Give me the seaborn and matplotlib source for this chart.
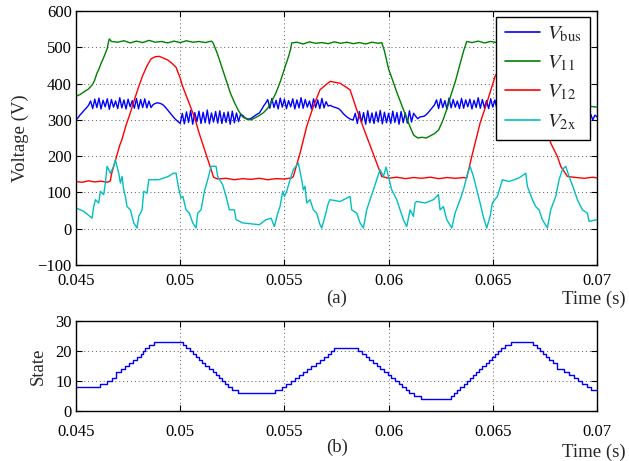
import numpy as np
import matplotlib
matplotlib.use("Agg")
import matplotlib.pyplot as plt
import seaborn as sns

# ---- data ----
# V_bus sampled every 0.1 ms from 0.045 s
t0_bus = 0.045
dt_bus = 0.0001
v_bus = [300, 306, 314, 320, 327, 333, 340,
         352, 331, 357, 334, 360, 330, 354, 336, 358, 329, 356, 335, 352, 331, 361,
         333, 355, 330, 357, 336, 353, 332, 359, 330, 356, 334, 358, 333, 352,
         334, 342, 345, 347, 346, 344, 340, 334, 327, 320, 313, 306, 300, 295, 290,
         318, 289, 322, 293, 326, 288, 320, 295, 324, 290, 321, 292, 327, 289, 319,
         294, 323, 291, 325, 290, 320, 293, 322, 288, 324, 292, 319, 295, 316,
         312, 306, 303, 302, 304, 308, 312, 316, 319, 328, 338, 346,
         356, 332, 359, 334, 354, 330, 360, 335, 357, 331, 353, 336, 358, 330, 355,
         333, 361, 332, 356, 335, 352, 330, 358, 334, 355, 331, 359, 333, 350,
         338, 340, 337, 335, 333, 331, 326, 319, 313, 308, 304, 301, 300,
         318, 290, 323, 293, 320, 288, 325, 292, 319, 290, 322, 294, 326, 289, 321,
         292, 318, 290, 324, 293, 320, 288, 323, 292, 319, 291, 325, 294, 318,
         310, 303, 308, 309, 310, 314, 320, 327, 334, 341,
         355, 331, 358, 334, 353, 330, 360, 333, 356, 335, 352, 331, 359, 332, 355,
         336, 357, 330, 354, 334, 361, 332, 356, 333, 353, 331, 358, 335, 355, 330,
         357, 334, 352,
         335, 342, 345, 347, 346, 343, 339, 333, 327, 320, 313, 307, 302, 298, 296,
         300, 305,
         320, 291, 323, 289, 318, 293, 325, 290, 321, 292, 324, 288, 320, 294, 322,
         290, 319, 293, 326, 291, 320, 297, 318, 303, 315, 300, 313, 308]

t_11 = [0.045, 0.0452, 0.0454, 0.0456, 0.0458, 0.0459, 0.046, 0.0461, 0.0462, 0.0463,
        0.0464, 0.0465, 0.04655, 0.0466, 0.0467, 0.047, 0.0473, 0.0476, 0.0479, 0.0482,
        0.0485, 0.0488, 0.0491, 0.0494, 0.0497, 0.05, 0.0503, 0.0506, 0.0509, 0.0512,
        0.0515, 0.05158, 0.0518, 0.052, 0.0522, 0.0524, 0.0526, 0.0528, 0.053, 0.0532,
        0.0534, 0.0536, 0.0538, 0.054, 0.0542, 0.0544, 0.0546, 0.0548, 0.055, 0.0552,
        0.0553, 0.05535, 0.0556, 0.0559, 0.0562, 0.0565, 0.0568, 0.0571, 0.0574, 0.0577,
        0.058, 0.0583, 0.0586, 0.0589, 0.0592, 0.0595, 0.05967, 0.0598, 0.06, 0.0602,
        0.0604, 0.0606, 0.0608, 0.061, 0.0612, 0.0614, 0.0616, 0.0618, 0.062, 0.0622,
        0.0624, 0.0626, 0.0628, 0.063, 0.0632, 0.0634, 0.0636, 0.06375, 0.064, 0.0643,
        0.0646, 0.0649, 0.0652, 0.0655, 0.0658, 0.0661, 0.0664, 0.0667, 0.067, 0.0673,
        0.0676, 0.068, 0.0682, 0.0684, 0.0686, 0.0688, 0.069, 0.0692, 0.0694, 0.0697,
        0.07]
v_11 = [365, 370, 378, 385, 398, 410, 428, 440, 455, 468,
        482, 497, 512, 523, 516, 514, 518, 512, 517, 513,
        519, 514, 516, 512, 517, 513, 518, 514, 516, 513,
        517, 512, 480, 445, 410, 375, 348, 325, 308, 302,
        300, 306, 312, 320, 332, 352, 375, 405, 440, 475,
        495, 512, 514, 509, 515, 511, 513, 510, 515, 511,
        514, 510, 513, 509, 514, 511, 513, 490, 440, 408,
        375, 345, 315, 285, 258, 250, 252, 250, 256, 262,
        272, 298, 330, 370, 405, 448, 490, 516, 513, 517,
        512, 516, 513, 517, 512, 515, 513, 516, 512, 515,
        513, 514, 500, 470, 435, 400, 370, 348, 340, 337,
        335]

t_12 = [0.045, 0.0453, 0.0456, 0.0459, 0.0462, 0.0465, 0.04665, 0.0467, 0.0469, 0.0471,
        0.0472, 0.0474, 0.0476, 0.0478, 0.048, 0.0482, 0.0484, 0.0486, 0.0488, 0.049,
        0.0492, 0.0494, 0.0496, 0.0498, 0.05, 0.0501, 0.0503, 0.0505, 0.0507, 0.0509,
        0.0511, 0.0513, 0.0515, 0.0516, 0.0518, 0.0522, 0.0526, 0.053, 0.0534, 0.0538,
        0.0542, 0.0546, 0.055, 0.05535, 0.05543, 0.05575, 0.05607, 0.05639, 0.05671, 0.05719,
        0.05767, 0.05815, 0.05847, 0.05895, 0.05943, 0.05967, 0.06, 0.0604, 0.0608, 0.0612,
        0.0616, 0.062, 0.0624, 0.0628, 0.0632, 0.0636, 0.06375, 0.06399, 0.06439, 0.06471,
        0.06511, 0.0653, 0.0657, 0.066, 0.0663, 0.0666, 0.0669, 0.0672, 0.0675, 0.06778,
        0.0681, 0.06826, 0.06858, 0.069, 0.0694, 0.0698, 0.07]
v_12 = [130, 128, 132, 129, 131, 128, 132, 150, 190, 230,
        245, 285, 318, 355, 390, 422, 448, 468, 474, 475,
        470, 465, 456, 445, 415, 395, 365, 335, 305, 265,
        230, 195, 160, 142, 137, 139, 135, 138, 136, 139,
        135, 138, 137, 140, 144, 208, 282, 337, 383, 406,
        401, 383, 328, 254, 181, 144, 139, 142, 138, 141,
        139, 142, 138, 141, 139, 141, 140, 199, 291, 346,
        420, 438, 465, 472, 470, 455, 420, 370, 300, 236,
        199, 172, 144, 141, 139, 142, 140]

t_2x = [0.04500, 0.04537, 0.04577, 0.04585, 0.04593, 0.04609, 0.04617, 0.04633, 0.04641, 0.04649,
        0.04665, 0.04681, 0.04689, 0.04705, 0.04713, 0.04721, 0.04729, 0.04737, 0.04745, 0.04761,
        0.04769, 0.04777, 0.04793, 0.04801, 0.04817, 0.04825, 0.04841, 0.04849, 0.04897, 0.04943,
        0.04967, 0.04980, 0.04993, 0.05004, 0.05013, 0.05028, 0.05044, 0.05060, 0.05076, 0.05084,
        0.05100, 0.05116, 0.05132, 0.05148, 0.05172, 0.05180, 0.05204, 0.05220, 0.05236, 0.05260,
        0.05268, 0.05300, 0.05380, 0.05412, 0.05436, 0.05452, 0.05468, 0.05479, 0.05492, 0.05500,
        0.05511, 0.05527, 0.05543, 0.05567, 0.05583, 0.05591, 0.05599, 0.05607, 0.05623, 0.05639,
        0.05655, 0.05671, 0.05679, 0.05695, 0.05711, 0.05719, 0.05767, 0.05815, 0.05823, 0.05847,
        0.05863, 0.05879, 0.05895, 0.05911, 0.05927, 0.05943, 0.05959, 0.05975, 0.05988, 0.05999,
        0.06015, 0.06039, 0.06055, 0.06071, 0.06087, 0.06103, 0.06119, 0.06127, 0.06135, 0.06175,
        0.06215, 0.06239, 0.06247, 0.06263, 0.06279, 0.06303, 0.06319, 0.06343, 0.06359, 0.06375,
        0.06391, 0.06407, 0.06423, 0.06439, 0.06454, 0.06471, 0.06487, 0.06498, 0.06522, 0.06546,
        0.06578, 0.06626, 0.06658, 0.06666, 0.06690, 0.06706, 0.06722, 0.06738, 0.06762, 0.06778,
        0.06802, 0.06818, 0.06834, 0.06850, 0.06866, 0.06890, 0.06906, 0.06930, 0.06954, 0.06962,
        0.07000]
v_2x = [57, 48, 29, 61, 80, 71, 103, 94, 126, 172,
        153, 172, 190, 153, 126, 144, 107, 89, 61, 52,
        34, 16, 2, 34, 52, 103, 98, 135, 135, 144,
        153, 153, 110, 85, 89, 52, 43, 16, 2, 43,
        52, 103, 135, 172, 172, 144, 121, 89, 52, 52,
        25, 16, 11, 25, 29, 6, 43, 61, 103, 89,
        103, 135, 163, 181, 135, 107, 117, 71, 80, 52,
        43, 11, 2, 34, 71, 80, 75, 89, 52, 43,
        16, 2, 52, 80, 107, 135, 163, 144, 170, 144,
        107, 80, 52, 25, 6, 52, 34, 71, 75, 71,
        80, 94, 52, 61, 25, 2, 43, 80, 107, 144,
        172, 144, 107, 71, 34, 2, 34, 71, 89, 135,
        130, 140, 153, 117, 80, 61, 52, 25, 2, 52,
        89, 135, 163, 172, 144, 107, 80, 52, 43, 20,
        25]

# switching state (step changes)
state_t = [0.045, 0.04615, 0.0465, 0.04671, 0.04692, 0.04714, 0.04735, 0.04754, 0.04775,
           0.04794, 0.04812, 0.04822, 0.04831, 0.04852, 0.04874,
           0.05015, 0.0503, 0.05045, 0.0506, 0.05075, 0.0509, 0.05105, 0.0512, 0.0514,
           0.05155, 0.0517, 0.05185, 0.052, 0.05215, 0.0523, 0.05248, 0.05275,
           0.05455, 0.0549, 0.0551, 0.0553, 0.0555, 0.0557, 0.0559, 0.0561, 0.0563,
           0.0565, 0.0567, 0.0569, 0.0571, 0.05725, 0.0574,
           0.05855, 0.05872, 0.0589, 0.05908, 0.05925, 0.05943, 0.0596, 0.05978, 0.05995,
           0.06013, 0.0603, 0.06048, 0.06065, 0.06083, 0.061, 0.0612, 0.06155,
           0.06298, 0.06315, 0.0633, 0.06345, 0.0636, 0.06375, 0.0639, 0.06405, 0.0642,
           0.06435, 0.0645, 0.06465, 0.0648, 0.06495, 0.0651, 0.06525, 0.0654, 0.0656, 0.06587,
           0.06692, 0.0671, 0.06725, 0.0674, 0.06755, 0.0677, 0.0679, 0.0681, 0.0684,
           0.06865, 0.0689, 0.0691, 0.0693, 0.0695, 0.0697, 0.07]
state_v = [8, 9, 10, 11, 13, 14, 15, 16, 17,
           18, 19, 20, 21, 22, 23,
           22, 21, 20, 19, 18, 17, 16, 15, 14,
           13, 12, 11, 10, 9, 8, 7, 6,
           7, 8, 9, 10, 11, 12, 13, 14, 15,
           16, 17, 18, 19, 20, 21,
           20, 19, 18, 17, 16, 15, 14, 13, 12,
           11, 10, 9, 8, 7, 6, 5, 4,
           5, 6, 7, 8, 9, 10, 11, 12, 13,
           14, 15, 16, 17, 18, 19, 20, 21, 22, 23,
           22, 21, 20, 19, 18, 17, 16, 14, 13,
           12, 11, 10, 9, 8, 7, 7]

xticks = [0.045, 0.05, 0.055, 0.06, 0.065, 0.07]
xticklabels = ['0.045', '0.05', '0.055', '0.06', '0.065', '0.07']

t_bus = t0_bus + dt_bus * np.arange(len(v_bus))

# ---- style ----
sns.set_style("ticks")
plt.rcParams['font.family'] = ['Liberation Serif', 'DejaVu Serif']
plt.rcParams['mathtext.fontset'] = 'stix'
plt.rcParams['font.size'] = 12
plt.rcParams['xtick.direction'] = 'in'
plt.rcParams['ytick.direction'] = 'in'

W, H = 629, 461
fig = plt.figure(figsize=(W / 100, H / 100), dpi=100)
ax1 = fig.add_axes([76 / W, 1 - 265 / H, 521 / W, 254 / H])
ax2 = fig.add_axes([76 / W, 1 - 411 / H, 521 / W, 90 / H])

sns.lineplot(x=t_bus, y=v_bus, ax=ax1, color='#0000ff', lw=1, label=r'$V_{\rm bus}$')
sns.lineplot(x=t_11, y=v_11, ax=ax1, color='#008000', lw=1, label=r'$V_{11}$')
sns.lineplot(x=t_12, y=v_12, ax=ax1, color='#ff0000', lw=1, label=r'$V_{12}$')
sns.lineplot(x=t_2x, y=v_2x, ax=ax1, color='#00bfbf', lw=1, label=r'$V_{2\rm x}$')

sns.lineplot(x=state_t, y=state_v, ax=ax2, color='#0000ff', lw=1,
             drawstyle='steps-post')

for ax in (ax1, ax2):
    ax.set_xlim(0.045, 0.07)
    ax.set_xticks(xticks)
    ax.set_xticklabels(xticklabels)
    ax.grid(True, color='0.35', linestyle=(0, (1, 3)), linewidth=0.7)
    ax.tick_params(top=True, right=True, length=4, width=0.8, labelsize=12,
                   colors='black')
    ax.tick_params(axis='y', pad=3)
    for s in ax.spines.values():
        s.set_visible(True)
        s.set_linewidth(1.0)
        s.set_color('black')
    ax.set_xlabel('')

ax1.tick_params(axis='x', pad=6)
ax2.tick_params(axis='x', pad=9)

ax1.set_ylim(-100, 600)
ax1.set_yticks(range(-100, 601, 100))
ax1.set_yticklabels(['\u2212100', '0', '100', '200', '300', '400', '500', '600'])
ax1.set_ylabel('Voltage (V)', fontsize=13.5, labelpad=6)

ax2.set_ylim(0, 30)
ax2.set_yticks([0, 10, 20, 30])
ax2.set_ylabel('State', fontsize=13.5, labelpad=6)

leg = ax1.legend(loc='upper right', bbox_to_anchor=(0.987, 0.978), borderaxespad=0,
                 fontsize=15, frameon=True, fancybox=False, framealpha=1,
                 edgecolor='black', handlelength=1.7, labelspacing=0.45,
                 handletextpad=0.35, borderpad=0.4)
leg.get_frame().set_linewidth(1.0)
for line in leg.get_lines():
    line.set_linewidth(1.2)

fig.text(337 / W, 1 - 298 / H, '(a)', ha='center', va='center', fontsize=13.5)
fig.text(626 / W, 1 - 299 / H, 'Time (s)', ha='right', va='center', fontsize=13.5)
fig.text(337 / W, 1 - 447 / H, '(b)', ha='center', va='center', fontsize=13.5)
fig.text(626 / W, 1 - 452 / H, 'Time (s)', ha='right', va='center', fontsize=13.5)

fig.savefig('out.png', dpi=100)
